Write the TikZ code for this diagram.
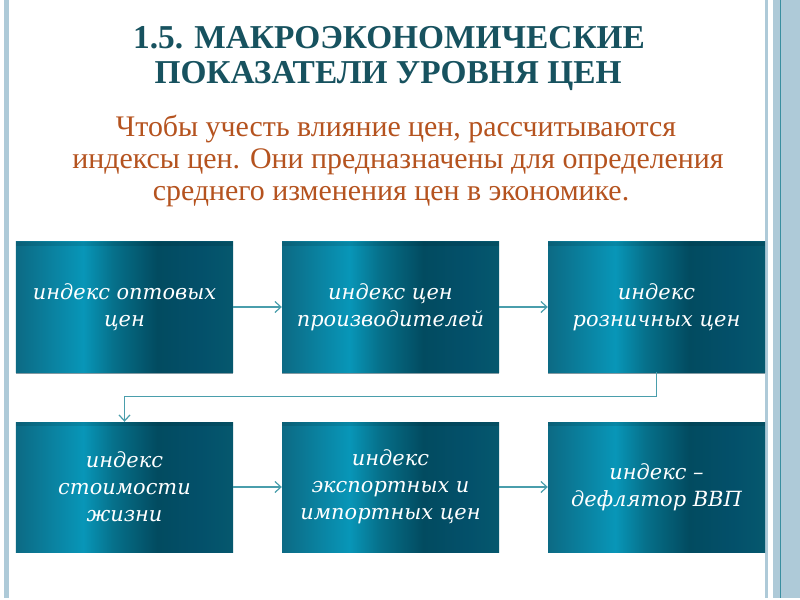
\documentclass[tikz,border=0pt]{standalone}
\usepackage{fontspec}
\setmainfont{Liberation Serif}
\newfontfamily\boxfont{DejaVu Serif}
\usetikzlibrary{arrows.meta}
\definecolor{titlecol}{HTML}{17525F}
\definecolor{subcol}{HTML}{B5531F}
\definecolor{stripcol}{HTML}{AECAD8}
\definecolor{stripline}{HTML}{3A8FA0}
\definecolor{conncol}{HTML}{4A9EAC}
\definecolor{shadowcol}{HTML}{8299A2}
\definecolor{tA}{HTML}{0C6A84}
\definecolor{tB}{HTML}{0896B8}
\definecolor{tC}{HTML}{06708A}
\definecolor{tD}{HTML}{024B60}
\definecolor{tE}{HTML}{03506A}
\definecolor{tF}{HTML}{05586E}
% stops placed in the central 25bp..75bp band that TikZ maps onto the path
\pgfdeclarehorizontalshading{tealshade}{100bp}{color(0bp)=(tA); color(25bp)=(tA); color(40.5bp)=(tB); color(47.5bp)=(tC); color(57.5bp)=(tD); color(67.5bp)=(tE); color(75bp)=(tF); color(100bp)=(tF)}
\tikzset{
  tbox/.style={shading=tealshade, minimum width=217bp, minimum height=130bp,
    inner sep=0pt, align=center, text=white,
    font=\boxfont\itshape\fontsize{21}{27}\selectfont},
  conn/.style={draw=conncol, line width=1.2bp, -{Straight Barb[length=6bp,width=11bp,line width=1.2bp]}},
  titletxt/.style={text=titlecol, font=\bfseries\fontsize{33.5}{35}\selectfont, anchor=base, inner sep=0pt},
  subtxt/.style={text=subcol, font=\fontsize{30}{32}\selectfont, anchor=base, inner sep=0pt}
}
\begin{document}
\begin{tikzpicture}[x=1bp,y=-1bp]
\useasboundingbox (0,0) rectangle (800,600);
\fill[white] (0,0) rectangle (800,600);
% side strips
\fill[stripcol] (4,0) rectangle (9,598);
\fill[stripcol] (765,0) rectangle (767.5,598);
\fill[stripcol] (773,0) rectangle (800,598);
\fill[stripline] (780,0) rectangle (781.2,598);
% title
\node[titletxt] (t1) at (389,49) {1.5. МАКРОЭКОНОМИЧЕСКИЕ};
\node[titletxt] (t2) at (388,84) {ПОКАЗАТЕЛИ УРОВНЯ ЦЕН};
% subtitle
\node[subtxt] (s1) at (396,137) {Чтобы учесть влияние цен, рассчитываются};
\node[subtxt] (s2) at (398,169) {индексы цен. Они предназначены для определения};
\node[subtxt] (s3) at (391,201) {среднего изменения цен в экономике.};
% shadows
\foreach \cx/\cy in {124.5/307,390.5/307,656.5/307,124.5/486,390.5/486,656.5/486}{
  \fill[shadowcol] (\cx-108.5,\cy+65) rectangle (\cx+108.5,\cy+67);
}
% boxes
\node[tbox] (b1) at (124.5,307) {индекс оптовых\\цен};
\node[tbox] (b2) at (390.5,307) {индекс цен\\производителей};
\node[tbox] (b3) at (656.5,307) {индекс\\розничных цен};
\node[tbox] (b4) at (124.5,487) {индекс\\стоимости\\жизни};
\node[tbox] (b5) at (390.5,487) {индекс\\экспортных и\\импортных цен};
\node[tbox] (b6) at (656.5,487) {индекс –\\дефлятор ВВП};
% darker top band of each box
\foreach \b in {b1,b2,b3,b4,b5,b6}{
  \fill[black, opacity=0.10] (\b.north west) rectangle ([yshift=-4bp]\b.north east);
}
% connectors
\draw[conn] (b1.east) -- (b2.west);
\draw[conn] (b2.east) -- (b3.west);
\draw[conn] (b4.east) -- (b5.west);
\draw[conn] (b5.east) -- (b6.west);
\draw[conn] (b3.south) -- ++(0,24) -| (b4.north);
\end{tikzpicture}
\end{document}
